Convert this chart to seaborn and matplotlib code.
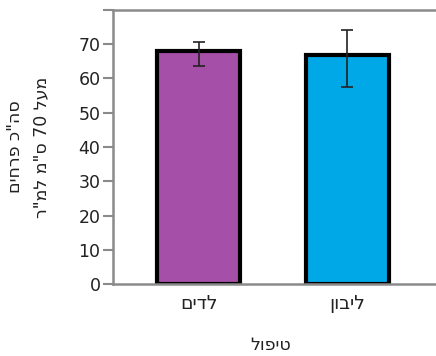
import matplotlib
matplotlib.use("Agg")

import matplotlib.pyplot as plt
import numpy as np
import pandas as pd
import seaborn as sns

# ---------------------------------------------------------------------------
# Data
# ---------------------------------------------------------------------------
# the reference shows the category names and x title in raw left-to-right
# letter order; single-line text gets bidi reordering here, so feed reversed
treatments = ["לדים"[::-1], "ליבון"[::-1]]
means = [68.0, 66.8]
err_low = [63.6, 57.5]
err_high = [70.7, 74.2]
bar_colors = ["#a64fa8", "#00a8e8"]
y_ticks = [0, 10, 20, 30, 40, 50, 60, 70, 80]
y_tick_labels = ["0", "10", "20", "30", "40", "50", "60", "70", ""]

# two-line y title, given in display order
ylabel_lines = ['םיחרפ כ"הס', 'ר"מל מ"ס 70 לעמ']
xlabel = "טיפול"[::-1]

SPINE = "#8a8a8a"
TEXT = "#222222"

sns.set_theme(style="white")
plt.rcParams["font.family"] = ["DejaVu Sans"]

df = pd.DataFrame({"treatment": treatments, "mean": means})

fig = plt.figure(figsize=(4.36, 3.56), dpi=100)
ax = fig.add_axes([0.259, 0.202, 0.741, 0.770])

sns.barplot(
    data=df, x="treatment", y="mean", hue="treatment",
    palette=bar_colors, saturation=1, legend=False, errorbar=None,
    width=0.56, edgecolor="black", linewidth=3, ax=ax,
)

x = np.arange(len(treatments))
yerr = [np.array(means) - np.array(err_low), np.array(err_high) - np.array(means)]
ax.errorbar(x, means, yerr=yerr, fmt="none", ecolor="#222222",
            elinewidth=1.2, capsize=4, capthick=1.2, zorder=5)

ax.set_xlim(-0.58, 1.60)
ax.set_ylim(0, 80)
ax.set_yticks(y_ticks)
ax.set_yticklabels(y_tick_labels)

for side in ["left", "bottom", "top"]:
    ax.spines[side].set_color(SPINE)
    ax.spines[side].set_linewidth(1.8)
ax.spines["right"].set_visible(False)

ax.tick_params(axis="y", length=7, width=1.5, color=SPINE, labelsize=12.5,
               labelcolor=TEXT, left=True, pad=2)
ax.tick_params(axis="x", length=0, labelsize=13.5, labelcolor=TEXT, pad=7)

ax.set_xlabel(xlabel, fontsize=12.5, color=TEXT)
ax.xaxis.set_label_coords(0.487, -0.19)
ax.set_ylabel("\n".join(ylabel_lines), fontsize=12.5, color=TEXT,
              linespacing=1.55)
ax.yaxis.set_label_coords(-0.195, 0.5)

fig.savefig("out.png", dpi=100, facecolor="white")
